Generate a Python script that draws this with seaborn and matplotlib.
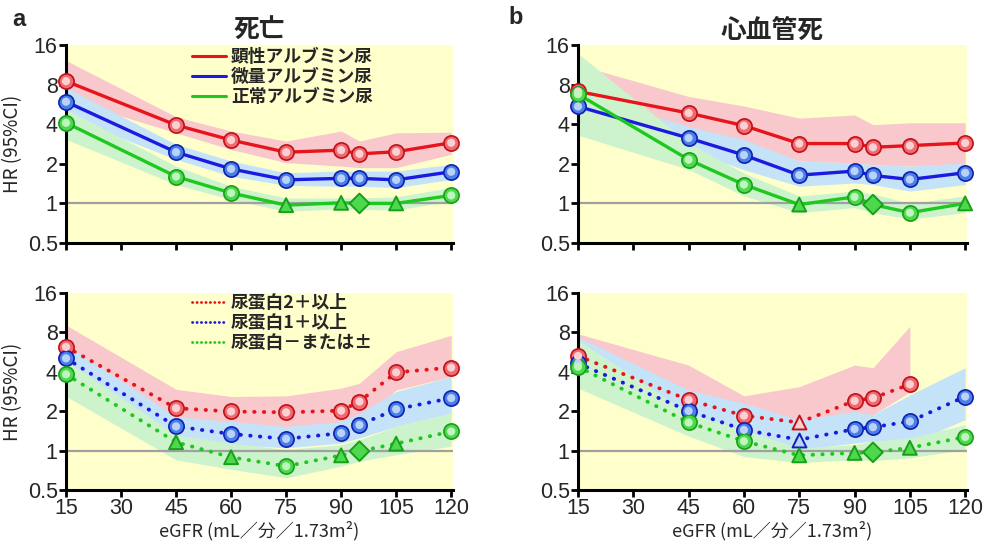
import matplotlib
matplotlib.use("Agg")
import matplotlib.pyplot as plt
import seaborn as sns
import pandas as pd
import numpy as np
from matplotlib.lines import Line2D
from matplotlib.ticker import NullLocator

nan = np.nan

egfr = [15, 45, 60, 75, 90, 95, 105, 120]
xticks = [15, 30, 45, 60, 75, 90, 105, 120]
yticks = [0.5, 1, 2, 4, 8, 16]
ytick_labels = ["0.5", "1", "2", "4", "8", "16"]

titles = ["死亡", "心血管死"]
panel_letters = ["a", "b"]
alb_labels = ["顕性アルブミン尿", "微量アルブミン尿", "正常アルブミン尿"]
prot_labels = ["尿蛋白2＋以上", "尿蛋白1＋以上", "尿蛋白－または±"]

# a: death, albuminuria
a_red_hr = [8.5, 3.94, 3.03, 2.45, 2.54, 2.38, 2.47, 2.89]
a_red_lo = [6.2, 3.44, 2.57, 2.04, 1.92, 1.87, 1.87, 2.36]
a_red_hi = [12.2, 4.56, 3.55, 2.98, 3.55, 2.98, 3.44, 3.48]
a_blue_hr = [5.93, 2.45, 1.83, 1.51, 1.55, 1.55, 1.51, 1.74]
a_blue_lo = [4.6, 2.16, 1.61, 1.37, 1.35, 1.35, 1.32, 1.52]
a_blue_hi = [7.6, 2.81, 2.1, 1.71, 1.76, 1.76, 1.76, 1.98]
a_green_hr = [4.1, 1.60, 1.20, 0.97, 1.01, 1.00, 1.00, 1.15]
a_green_lo = [3.07, 1.39, 1.07, 0.87, 0.91, 0.90, 0.89, 1.04]
a_green_hi = [5.2, 1.92, 1.35, 1.10, 1.10, 1.10, 1.12, 1.32]
a_green_mk = ["o", "o", "o", "^", "^", "D", "^", "o"]

# b: cardiovascular death, albuminuria
b_red_hr = [7.1, 4.86, 3.9, 2.85, 2.85, 2.67, 2.75, 2.88]
b_red_lo = [5.1, 3.5, 2.9, 2.1, 2.03, 1.97, 1.92, 2.0]
b_red_hi = [11.3, 6.5, 5.5, 4.45, 4.7, 3.97, 4.1, 4.1]
b_blue_hr = [5.46, 3.14, 2.33, 1.64, 1.76, 1.63, 1.52, 1.71]
b_blue_lo = [4.1, 2.56, 1.8, 1.35, 1.43, 1.39, 1.24, 1.39]
b_blue_hi = [6.9, 3.85, 3.05, 2.1, 2.03, 1.97, 1.92, 2.03]
b_green_hr = [6.77, 2.15, 1.39, 0.98, 1.12, 0.98, 0.85, 1.0]
b_green_lo = [3.3, 1.81, 1.14, 0.85, 0.93, 0.85, 0.76, 0.85]
b_green_hi = [13.8, 2.88, 1.7, 1.14, 1.24, 1.18, 1.0, 1.14]
b_green_mk = ["o", "o", "o", "^", "o", "D", "o", "^"]

# c: death, proteinuria
c_red_hr = [6.2, 2.11, 1.99, 1.96, 2.02, 2.37, 3.96, 4.31]
c_red_lo = [5.2, 1.72, 1.53, 1.46, 1.53, 1.67, 2.9, 3.67]
c_red_hi = [9.1, 2.94, 2.59, 2.62, 3.0, 3.27, 5.7, 7.6]
c_blue_hr = [5.07, 1.53, 1.34, 1.23, 1.36, 1.57, 2.07, 2.52]
c_blue_lo = [4.0, 1.29, 1.11, 1.05, 1.14, 1.25, 1.53, 1.93]
c_blue_hi = [6.4, 1.82, 1.67, 1.53, 1.67, 1.93, 2.83, 3.67]
c_green_hr = [3.83, 1.16, 0.89, 0.76, 0.92, 0.99, 1.13, 1.40]
c_green_lo = [2.6, 0.85, 0.72, 0.62, 0.76, 0.83, 0.93, 1.08]
c_green_hi = [4.9, 1.32, 1.14, 1.02, 1.11, 1.21, 1.53, 1.93]
c_green_mk = ["o", "^", "^", "o", "^", "D", "^", "o"]

# d: cardiovascular death, proteinuria
d_red_hr = [5.28, 2.44, 1.85, 1.64, 2.4, 2.52, 3.21, nan]
d_red_lo = [4.9, 2.3, 1.53, 1.44, 1.83, 1.88, 2.8, nan]
d_red_hi = [7.8, 4.5, 2.62, 3.08, 4.5, 4.3, 8.9, nan]
d_red_mk = ["o", "o", "o", "^", "o", "o", "o", "o"]
d_blue_hr = [4.64, 2.01, 1.44, 1.21, 1.46, 1.51, 1.67, 2.59]
d_blue_lo = [3.9, 1.62, 1.21, 1.02, 1.14, 1.18, 1.14, 1.72]
d_blue_hi = [7.4, 2.9, 2.3, 1.72, 1.99, 1.88, 2.66, 4.3]
d_blue_mk = ["o", "o", "o", "^", "o", "o", "o", "o"]
d_green_hr = [4.38, 1.64, 1.18, 0.92, 0.96, 0.97, 1.05, 1.27]
d_green_lo = [3.0, 1.29, 0.9, 0.81, 0.85, 0.84, 0.88, 1.02]
d_green_hi = [7.0, 1.93, 1.44, 1.05, 1.11, 1.18, 1.25, 1.58]
d_green_mk = ["o", "o", "o", "^", "^", "D", "^", "o"]

circles = ["o"] * 8

LINE = {"red": "#E8141C", "blue": "#1A1AE0", "green": "#1EC81E"}
BAND = {"red": "#F9C8CC", "blue": "#C4E2F8", "green": "#CDF3CD"}
FACE = {"red": "#F06A70", "blue": "#4A7FE8", "green": "#4ED84E"}
LIGHT = {"red": "#FBD0D3", "blue": "#B8D2FA", "green": "#C0F5C0"}
EDGE = {"red": "#C0101A", "blue": "#1020B0", "green": "#18A018"}

sns.set_style("ticks")
plt.rcParams["font.family"] = ["Liberation Sans", "DejaVu Sans"]
JP = ["Noto Sans CJK JP", "DejaVu Sans"]


def draw_band(ax, hr, lo, hi, mk, color):
    df = pd.DataFrame({"egfr": egfr, "hr": hr, "lo": lo, "hi": hi, "mk": mk}).dropna()
    ax.fill_between(df["egfr"], df["lo"], df["hi"], color=BAND[color], lw=0, zorder=1)
    return df


def draw_marks(ax, df, color, dotted):
    if dotted:
        sns.lineplot(data=df, x="egfr", y="hr", color=LINE[color], lw=2.8,
                     linestyle=(0, (0.1, 2.4)), sort=False, ax=ax, zorder=4,
                     legend=False, dash_capstyle="round")
    else:
        sns.lineplot(data=df, x="egfr", y="hr", color=LINE[color], lw=2.4,
                     sort=False, ax=ax, zorder=4, legend=False)
    circ = df[df["mk"] == "o"]
    other = df[df["mk"] != "o"]
    sns.scatterplot(data=circ, x="egfr", y="hr", marker="o", s=120,
                    color=FACE[color], edgecolor=EDGE[color], linewidth=1.2,
                    ax=ax, zorder=5, clip_on=False, legend=False)
    sns.scatterplot(data=circ, x="egfr", y="hr", marker="o", s=35,
                    color=LIGHT[color], edgecolor="none", linewidth=0,
                    ax=ax, zorder=6, clip_on=False, legend=False)
    if len(other):
        sns.scatterplot(data=other, x="egfr", y="hr", style="mk",
                        markers={"^": "^", "D": "D"}, s=100,
                        color=LIGHT[color] if color != "green" else FACE[color],
                        edgecolor=EDGE[color], linewidth=1.4,
                        ax=ax, zorder=5, clip_on=False, legend=False)


def setup_axes(ax, show_xlabels, show_ylabel):
    ax.set_facecolor("#FFFFCC")
    ax.set_yscale("log", base=2)
    ax.set_xlim(15, 120.5)
    ax.set_ylim(0.5, 16)
    ax.set_yticks(yticks)
    ax.set_yticklabels(ytick_labels)
    ax.yaxis.set_minor_locator(NullLocator())
    ax.set_xticks(xticks)
    if show_xlabels:
        ax.set_xticklabels([str(v) for v in xticks])
        ax.set_xlabel("eGFR (mL／分／1.73m²)", fontsize=13, family=JP, labelpad=1)
    else:
        ax.set_xticklabels([])
        ax.set_xlabel("")
    if show_ylabel:
        ax.set_ylabel("HR (95%CI)", fontsize=13.5, family=JP, labelpad=3)
    else:
        ax.set_ylabel("")
    ax.axhline(1, color="#A0A0A0", lw=1.6, zorder=2)
    for s in ["top", "right"]:
        ax.spines[s].set_visible(False)
    for s in ["left", "bottom"]:
        ax.spines[s].set_linewidth(2.2)
        ax.spines[s].set_color("black")
        ax.spines[s].set_zorder(3)
    ax.tick_params(axis="both", length=5, width=2, color="black",
                   labelsize=15.5, pad=1)
    ax.grid(False)


fig = plt.figure(figsize=(9.86, 5.53), dpi=100)
W, H = 986, 553
lefts = [66, 578]
widths = [387, 389]
tops = [45, 293]
heights = [198, 197]

panels = [
    [(a_red_hr, a_red_lo, a_red_hi, circles, "red"),
     (a_blue_hr, a_blue_lo, a_blue_hi, circles, "blue"),
     (a_green_hr, a_green_lo, a_green_hi, a_green_mk, "green")],
    [(b_red_hr, b_red_lo, b_red_hi, circles, "red"),
     (b_blue_hr, b_blue_lo, b_blue_hi, circles, "blue"),
     (b_green_hr, b_green_lo, b_green_hi, b_green_mk, "green")],
    [(c_red_hr, c_red_lo, c_red_hi, circles, "red"),
     (c_blue_hr, c_blue_lo, c_blue_hi, circles, "blue"),
     (c_green_hr, c_green_lo, c_green_hi, c_green_mk, "green")],
    [(d_red_hr, d_red_lo, d_red_hi, d_red_mk, "red"),
     (d_blue_hr, d_blue_lo, d_blue_hi, d_blue_mk, "blue"),
     (d_green_hr, d_green_lo, d_green_hi, d_green_mk, "green")],
]

for i, series in enumerate(panels):
    row, col = divmod(i, 2)
    l, w = lefts[col], widths[col]
    t, h = tops[row], heights[row]
    ax = fig.add_axes([l / W, 1 - (t + h) / H, w / W, h / H])
    dfs = [draw_band(ax, *s) for s in series]
    for df, s in zip(dfs, series):
        draw_marks(ax, df, s[4], dotted=(row == 1))
    setup_axes(ax, show_xlabels=(row == 1), show_ylabel=(col == 0))

    if col == 0:
        labels = alb_labels if row == 0 else prot_labels
        handles = [Line2D([], [], color=LINE[c], lw=2.2 if row == 0 else 2.0,
                          linestyle="-" if row == 0 else (0, (0.1, 1.5)),
                          dash_capstyle="round")
                   for c in ["red", "blue", "green"]]
        ax.legend(handles, labels, loc="upper left",
                  bbox_to_anchor=(0.325, 0.985 if row == 0 else 0.995),
                  frameon=False, handlelength=1.9, handletextpad=0.3,
                  labelspacing=0.12, borderpad=0, borderaxespad=0,
                  prop={"family": JP, "weight": "bold", "size": 12.8})

    if row == 0:
        ax.set_title(titles[col], family=JP, weight="bold", fontsize=18.5, pad=5)
        fig.text((12 if col == 0 else 508) / W, 1 - (20 if col == 0 else 17) / H,
                 panel_letters[col], fontsize=17, weight="bold", ha="left",
                 va="center", family=["Liberation Sans", "DejaVu Sans"])

fig.savefig("out.png", dpi=100)
